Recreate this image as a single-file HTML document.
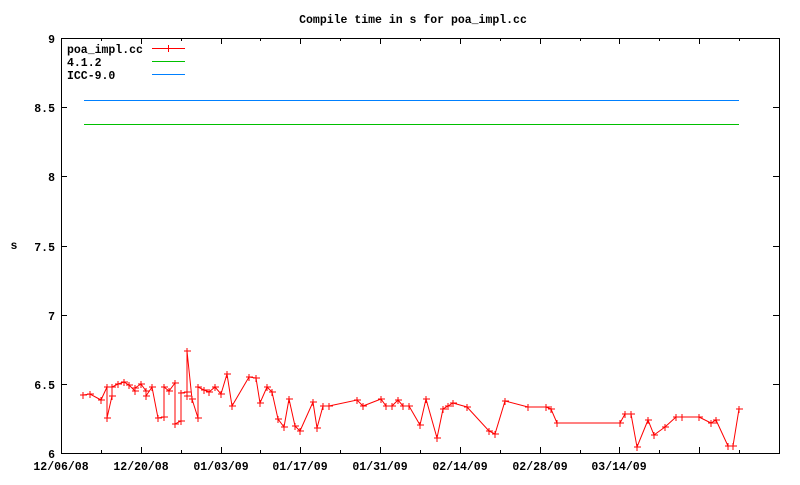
<!DOCTYPE html>
<html><head><meta charset="utf-8"><style>
html,body{margin:0;padding:0;background:#fff}
text{font-family:"Liberation Mono","DejaVu Sans Mono",monospace;font-size:11.5px;font-weight:bold;fill:#000}
</style></head><body>
<svg width="800" height="480" xmlns="http://www.w3.org/2000/svg" shape-rendering="crispEdges">
<rect x="0" y="0" width="800" height="480" fill="#fff"/>
<text x="413" y="23" text-anchor="middle">Compile time in s for poa_impl.cc</text>
<text x="14" y="249" text-anchor="middle">s</text>
<rect x="61.5" y="38.5" width="718" height="415" fill="none" stroke="#000" stroke-width="1"/>
<g stroke="#000" stroke-width="1">
<path d="M61 38.5h6M779 38.5h-6M61 107.5h6M779 107.5h-6M61 176.5h6M779 176.5h-6M61 246.5h6M779 246.5h-6M61 315.5h6M779 315.5h-6M61 384.5h6M779 384.5h-6"/>
<path d="M141.5 453v-6M221.5 453v-6M300.5 453v-6M380.5 453v-6M460.5 453v-6M540.5 453v-6M619.5 453v-6M699.5 453v-6
M101.5 453v-3M181.5 453v-3M260.5 453v-3M340.5 453v-3M420.5 453v-3M500.5 453v-3M580.5 453v-3M659.5 453v-3M739.5 453v-3
M141.5 38v6M221.5 38v6M300.5 38v6M380.5 38v6M460.5 38v6M540.5 38v6M619.5 38v6M699.5 38v6
M101.5 38v3M181.5 38v3M260.5 38v3M340.5 38v3M420.5 38v3M500.5 38v3M580.5 38v3M659.5 38v3M739.5 38v3"/>
</g>
<g text-anchor="end">
<text x="55" y="43">9</text><text x="55" y="112">8.5</text><text x="55" y="181">8</text>
<text x="55" y="251">7.5</text><text x="55" y="320">7</text><text x="55" y="389">6.5</text><text x="55" y="458">6</text>
</g>
<g text-anchor="middle">
<text x="61" y="470">12/06/08</text><text x="141" y="470">12/20/08</text><text x="221" y="470">01/03/09</text>
<text x="300" y="470">01/17/09</text><text x="380" y="470">01/31/09</text><text x="460" y="470">02/14/09</text>
<text x="540" y="470">02/28/09</text><text x="619" y="470">03/14/09</text>
</g>
<text x="67" y="53">poa_impl.cc</text><text x="67" y="66">4.1.2</text><text x="67" y="79">ICC-9.0</text>
<path d="M152 48.5h33M168.5 45v7" stroke="#f00" fill="none"/>
<path d="M152 61.5h33" stroke="#00c000"/>
<path d="M152 74.5h33" stroke="#0080ff"/>
<path d="M84 100.5H739" stroke="#0080ff"/>
<path d="M84 124.5H739" stroke="#00c000"/>
<g shape-rendering="auto">
<polyline id="d" fill="none" stroke="#f00" stroke-width="1" points="83,395 90,394 101,400 107,387 107,418 112,396 112,387 118,384 124,382 129,385 135,391 135,388 141,384 146,391 146,396 152,387 158,418 164,417 164,387 169,391 175,383 175,424 181,421 181,393 187,392 187,396 187,351 192,399 198,418 198,387 204,390 209,392 215,387 221,394 227,374 232,406 249,377 256,378 260,403 267,387 272,392 278,419 284,427 289,399 295,426 300,431 313,402 317,428 323,406 329,406 357,400 363,406 381,399 386,406 392,406 398,400 403,406 409,406 420,425 426,399 437,438 443,409 448,406 453,403 467,407 489,431 495,434 505,401 528,407 546,407 551,409 557,423 620,423 625,414 631,414 637,447 648,420 654,435 665,427 676,417 682,417 699,417 711,423 716,420 728,446 733,446 739,409"/>
<path stroke="#f00" stroke-width="1" fill="none" d="M80,395h7M83,392v7M87,394h7M90,391v7M98,400h7M101,397v7M104,387h7M107,384v7M104,418h7M107,415v7M109,396h7M112,393v7M109,387h7M112,384v7M115,384h7M118,381v7M121,382h7M124,379v7M126,385h7M129,382v7M132,391h7M135,388v7M132,388h7M135,385v7M138,384h7M141,381v7M143,391h7M146,388v7M143,396h7M146,393v7M149,387h7M152,384v7M155,418h7M158,415v7M161,417h7M164,414v7M161,387h7M164,384v7M166,391h7M169,388v7M172,383h7M175,380v7M172,424h7M175,421v7M178,421h7M181,418v7M178,393h7M181,390v7M184,392h7M187,389v7M184,396h7M187,393v7M184,351h7M187,348v7M189,399h7M192,396v7M195,418h7M198,415v7M195,387h7M198,384v7M201,390h7M204,387v7M206,392h7M209,389v7M212,387h7M215,384v7M218,394h7M221,391v7M224,374h7M227,371v7M229,406h7M232,403v7M246,377h7M249,374v7M253,378h7M256,375v7M257,403h7M260,400v7M264,387h7M267,384v7M269,392h7M272,389v7M275,419h7M278,416v7M281,427h7M284,424v7M286,399h7M289,396v7M292,426h7M295,423v7M297,431h7M300,428v7M310,402h7M313,399v7M314,428h7M317,425v7M320,406h7M323,403v7M326,406h7M329,403v7M354,400h7M357,397v7M360,406h7M363,403v7M378,399h7M381,396v7M383,406h7M386,403v7M389,406h7M392,403v7M395,400h7M398,397v7M400,406h7M403,403v7M406,406h7M409,403v7M417,425h7M420,422v7M423,399h7M426,396v7M434,438h7M437,435v7M440,409h7M443,406v7M445,406h7M448,403v7M450,403h7M453,400v7M464,407h7M467,404v7M486,431h7M489,428v7M492,434h7M495,431v7M502,401h7M505,398v7M525,407h7M528,404v7M543,407h7M546,404v7M548,409h7M551,406v7M554,423h7M557,420v7M617,423h7M620,420v7M622,414h7M625,411v7M628,414h7M631,411v7M634,447h7M637,444v7M645,420h7M648,417v7M651,435h7M654,432v7M662,427h7M665,424v7M673,417h7M676,414v7M679,417h7M682,414v7M696,417h7M699,414v7M708,423h7M711,420v7M713,420h7M716,417v7M725,446h7M728,443v7M730,446h7M733,443v7M736,409h7M739,406v7"/>
</g>
</svg>
</body></html>
